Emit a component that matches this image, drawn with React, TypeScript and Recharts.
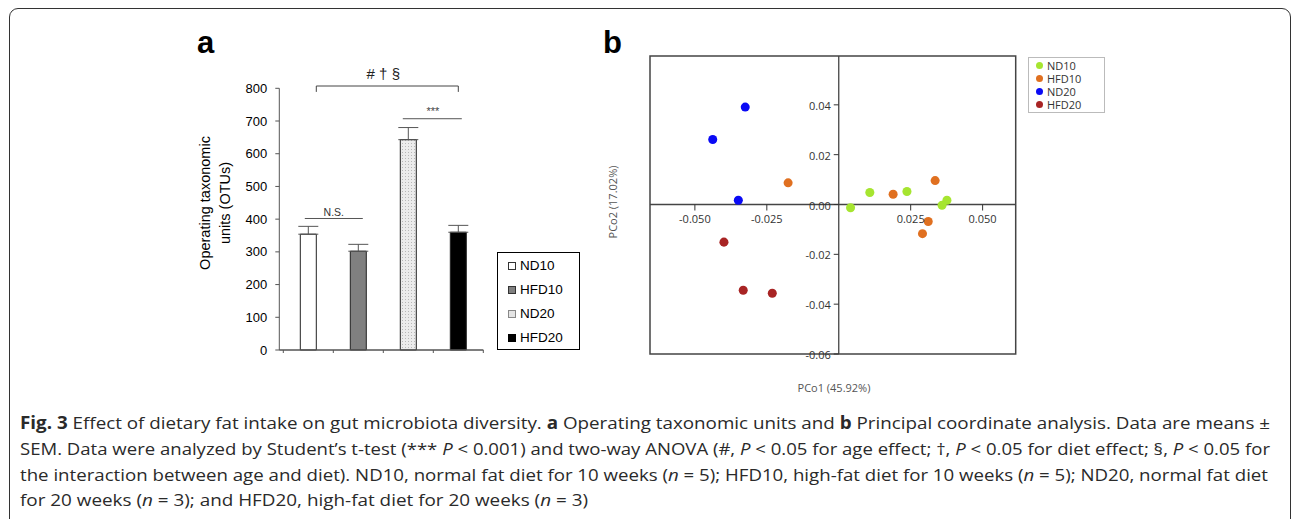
import React from 'react';
import {
  BarChart,
  Bar,
  Cell,
  ErrorBar,
  XAxis,
  YAxis,
  ReferenceLine,
  ReferenceDot,
  ReferenceArea,
  Label,
  ScatterChart,
  Scatter,
  ZAxis,
} from 'recharts';

// panel a: OTUs
const groups = ['ND10', 'HFD10', 'ND20', 'HFD20'];
const otuMeans = [354, 302, 643, 360];
const otuSem = [24, 21, 37, 21];
const otuTicks = [0, 100, 200, 300, 400, 500, 600, 700, 800];
const slotTicks = [0, 1, 2, 3, 4];
const barFills = ['#ffffff', '#808080', 'url(#dots)', '#000000'];

// panel b: PCoA
const nd10 = [
  { x: 0.0041, y: -0.0013 },
  { x: 0.0108, y: 0.0048 },
  { x: 0.0237, y: 0.0052 },
  { x: 0.0359, y: -0.0003 },
  { x: 0.0376, y: 0.0017 },
];
const hfd10 = [
  { x: -0.0176, y: 0.0087 },
  { x: 0.0189, y: 0.0041 },
  { x: 0.0335, y: 0.0096 },
  { x: 0.0311, y: -0.0068 },
  { x: 0.0291, y: -0.0117 },
];
const nd20 = [
  { x: -0.0325, y: 0.0391 },
  { x: -0.0438, y: 0.0261 },
  { x: -0.0349, y: 0.0017 },
];
const hfd20 = [
  { x: -0.0399, y: -0.0151 },
  { x: -0.0332, y: -0.0344 },
  { x: -0.0231, y: -0.0356 },
];
const pcoXTicks = [-0.05, -0.025, 0.025, 0.05];
const pcoYTicks = [0.04, 0.02, 0, -0.02, -0.04, -0.06];
const pcoXDomain = [-0.0656, 0.0615];
const pcoYDomain = [-0.06, 0.0596];

const pcoSeries = [
  { name: 'ND10', data: nd10, color: '#a6e530' },
  { name: 'HFD10', data: hfd10, color: '#e07020' },
  { name: 'ND20', data: nd20, color: '#0a0af5' },
  { name: 'HFD20', data: hfd20, color: '#a82424' },
];

// each group sits in the middle of its slot on a 0..4 axis
const otuData = groups.map((g, i) => ({ group: g, slot: i + 0.5, value: otuMeans[i], err: [0, otuSem[i]] }));

const ARIAL = '"Liberation Sans", Arial, sans-serif';
const SEGOE = '"Open Sans", "Noto Sans", sans-serif';

const PLOT_W = 365.7;
const PLOT_H = 298;
const xShift = (PLOT_W * (0 - pcoXDomain[0])) / (pcoXDomain[1] - pcoXDomain[0]);
const yShift = (PLOT_H * (0 - pcoYDomain[0])) / (pcoYDomain[1] - pcoYDomain[0]);

const SlotTick = (props: any) => {
  const { x, y } = props;
  return <line x1={x} x2={x} y1={y} y2={y + 3} stroke="#555" />;
};

const PcoXTick = (props: any) => {
  const { x, y, payload } = props;
  const y0 = y - yShift;
  return (
    <g>
      <line x1={x} x2={x} y1={y0} y2={y0 + 6} stroke="#333" />
      <text x={x} y={y0 + 18} textAnchor="middle" fontSize={11} fontFamily={SEGOE} fill="#333">
        {payload.value.toFixed(3)}
      </text>
    </g>
  );
};

const PcoYTick = (props: any) => {
  const { x, y, payload } = props;
  const x0 = x + xShift;
  return (
    <g>
      <line x1={x0 - 5} x2={x0} y1={y} y2={y} stroke="#333" />
      <text x={x0 - 8} y={y + 5} textAnchor="end" fontSize={11} fontFamily={SEGOE} fill="#333">
        {payload.value.toFixed(2)}
      </text>
    </g>
  );
};

const OtuChart = () => (
  <BarChart
    width={330}
    height={350}
    data={otuData}
    margin={{ top: 68.3, right: 26.7, bottom: 10, left: 59.3 }}
  >
    <defs>
      <pattern id="dots" width="3" height="3" patternUnits="userSpaceOnUse">
        <rect width="3" height="3" fill="#ececec" />
        <rect width="1" height="1" fill="#b8b8b8" />
      </pattern>
    </defs>
    <XAxis
      type="number"
      dataKey="slot"
      domain={[0, 4]}
      ticks={slotTicks}
      interval={0}
      allowDataOverflow
      height={10}
      padding={{ left: 4, right: 0 }}
      axisLine={{ stroke: '#555' }}
      tickLine={false}
      tickSize={0}
      tickMargin={0}
      tick={<SlotTick />}
    />
    <YAxis
      width={40}
      domain={[0, 800]}
      ticks={otuTicks}
      interval={0}
      stroke="#555"
      tickSize={4}
      tickMargin={8}
      tick={{ fontSize: 13, fontFamily: ARIAL, fill: '#000' }}
    />
    <ReferenceLine y={0} stroke="#555" />
    <Bar dataKey="value" barSize={16} stroke="#222" strokeWidth={1} isAnimationActive={false}>
      {otuData.map((d, i) => (
        <Cell key={d.group} fill={barFills[i]} />
      ))}
      <ErrorBar dataKey="err" width={10} stroke="#555" strokeWidth={1} direction="y" />
    </Bar>
    {/* #†§ bracket */}
    <ReferenceLine segment={[{ x: 0.66, y: 807 }, { x: 3.5, y: 807 }]} stroke="#444" ifOverflow="visible" />
    <ReferenceLine segment={[{ x: 0.66, y: 807 }, { x: 0.66, y: 789 }]} stroke="#444" ifOverflow="visible" />
    <ReferenceLine segment={[{ x: 3.5, y: 807 }, { x: 3.5, y: 789 }]} stroke="#444" ifOverflow="visible" />
    <ReferenceDot
      x={2.0}
      y={846}
      r={1}
      fill="none"
      stroke="none"
      ifOverflow="visible"
      label={<Label value="# † §" position="center" fontSize={15} fontFamily={ARIAL} fill="#222" />}
    />
    {/* *** */}
    <ReferenceLine segment={[{ x: 2.39, y: 707 }, { x: 3.57, y: 707 }]} stroke="#555" ifOverflow="visible" />
    <ReferenceDot
      x={2.99}
      y={729}
      r={1}
      fill="none"
      stroke="none"
      ifOverflow="visible"
      label={<Label value="***" position="center" fontSize={11} fontFamily={ARIAL} fill="#444" />}
    />
    {/* N.S. */}
    <ReferenceLine segment={[{ x: 0.43, y: 402 }, { x: 1.59, y: 402 }]} stroke="#555" ifOverflow="visible" />
    <ReferenceDot
      x={1.01}
      y={420}
      r={1}
      fill="none"
      stroke="none"
      ifOverflow="visible"
      label={<Label value="N.S." position="center" fontSize={10.5} fontFamily={ARIAL} fill="#333" />}
    />
  </BarChart>
);

const PcoChart = () => (
  <ScatterChart width={520} height={380} margin={{ top: 36, right: 104.3, bottom: 36, left: 40 }}>
    <XAxis
      type="number"
      dataKey="x"
      domain={pcoXDomain}
      ticks={pcoXTicks}
      interval={0}
      height={10}
      axisLine={false}
      tickLine={false}
      tickSize={0}
      tickMargin={0}
      allowDataOverflow
      tick={<PcoXTick />}
    />
    <YAxis
      type="number"
      dataKey="y"
      domain={pcoYDomain}
      ticks={pcoYTicks}
      interval={0}
      width={10}
      axisLine={false}
      tickLine={false}
      tickSize={0}
      tickMargin={0}
      allowDataOverflow
      tick={<PcoYTick />}
    />
    <ZAxis range={[42, 42]} />
    <ReferenceArea
      x1={pcoXDomain[0]}
      x2={pcoXDomain[1]}
      y1={pcoYDomain[0]}
      y2={pcoYDomain[1]}
      fill="none"
      fillOpacity={0}
      stroke="#444"
      strokeWidth={1.5}
    />
    <ReferenceLine x={0} stroke="#444" strokeWidth={1.3} />
    <ReferenceLine y={0} stroke="#444" strokeWidth={1.3} />
    {pcoSeries.map((s) => (
      <Scatter key={s.name} name={s.name} data={s.data} fill={s.color} isAnimationActive={false} />
    ))}
  </ScatterChart>
);

const legendSquare = (i: number) => {
  const base: React.CSSProperties = {
    position: 'absolute',
    left: 10,
    width: 6,
    height: 6,
    border: '1px solid #333',
  };
  if (i === 0) return { ...base, background: '#fff' };
  if (i === 1) return { ...base, background: '#808080' };
  if (i === 2) return { ...base, background: '#e4e4e4', border: '1px solid #888' };
  return { ...base, background: '#000', border: '1px solid #000' };
};

const captionLines = [
  {
    len: 1250,
    parts: [
      { t: 'Fig. 3', b: true },
      { t: ' Effect of dietary fat intake on gut microbiota diversity. ' },
      { t: 'a', b: true },
      { t: ' Operating taxonomic units and ' },
      { t: 'b', b: true },
      { t: ' Principal coordinate analysis. Data are means ±' },
    ],
  },
  {
    len: 1250,
    parts: [
      { t: 'SEM. Data were analyzed by Student\u2019s t-test (*** ' },
      { t: 'P', i: true },
      { t: ' < 0.001) and two-way ANOVA (#, ' },
      { t: 'P', i: true },
      { t: ' < 0.05 for age effect; †, ' },
      { t: 'P', i: true },
      { t: ' < 0.05 for diet effect; §, ' },
      { t: 'P', i: true },
      { t: ' < 0.05 for' },
    ],
  },
  {
    len: 1248,
    parts: [
      { t: 'the interaction between age and diet). ND10, normal fat diet for 10 weeks (' },
      { t: 'n', i: true },
      { t: ' = 5); HFD10, high-fat diet for 10 weeks (' },
      { t: 'n', i: true },
      { t: ' = 5); ND20, normal fat diet' },
    ],
  },
  {
    len: 568,
    parts: [
      { t: 'for 20 weeks (' },
      { t: 'n', i: true },
      { t: ' = 3); and HFD20, high-fat diet for 20 weeks (' },
      { t: 'n', i: true },
      { t: ' = 3)' },
    ],
  },
];

const App: React.FC = () => {
  return (
    <div
      style={{
        position: 'absolute',
        left: 0,
        top: 0,
        width: 1292,
        height: 519,
        overflow: 'hidden',
        background: '#fff',
      }}
    >
      {/* frame */}
      <div
        style={{
          position: 'absolute',
          left: 9,
          top: 8,
          width: 1282,
          height: 520,
          border: '1.5px solid #333',
          borderRadius: 9,
          boxSizing: 'border-box',
        }}
      />
      <svg width={1292} height={519} style={{ position: 'absolute', left: 0, top: 0 }}>
        <text x={197} y={53} fontSize={31} fontWeight="bold" fontFamily={ARIAL} fill="#000">a</text>
        <text x={603} y={53} fontSize={31} fontWeight="bold" fontFamily={ARIAL} fill="#000">b</text>
        <g fontSize={14.5} fontFamily={ARIAL} fill="#000" textAnchor="middle">
          <text transform="translate(210,203) rotate(-90)">Operating taxonomic</text>
          <text transform="translate(230,203) rotate(-90)">units (OTUs)</text>
        </g>
        <text transform="translate(617,202) rotate(-90)" textAnchor="middle" fontSize={11} fontFamily={SEGOE} fill="#555">
          PCo2 (17.02%)
        </text>
        <text x={834} y={392} textAnchor="middle" fontSize={11} fontFamily={SEGOE} fill="#555">
          PCo1 (45.92%)
        </text>
        <g fontSize={17} fontFamily={SEGOE} fill="#2a2a2a">
          {captionLines.map((line, li) => (
            <text key={li} x={20} y={429 + li * 25.8} textLength={line.len} lengthAdjust="spacingAndGlyphs">
              {line.parts.map((p: any, pi) => (
                <tspan key={pi} fontWeight={p.b ? 'bold' : 'normal'} fontStyle={p.i ? 'italic' : 'normal'}>
                  {p.t}
                </tspan>
              ))}
            </text>
          ))}
        </g>
      </svg>

      <div style={{ position: 'absolute', left: 180, top: 20 }}>
        <OtuChart />
      </div>

      {/* legend a */}
      <div
        style={{
          position: 'absolute',
          left: 497,
          top: 252,
          width: 83,
          height: 98,
          border: '1px solid #000',
          boxSizing: 'border-box',
          fontFamily: ARIAL,
          fontSize: 13.5,
        }}
      >
        {groups.map((g, i) => (
          <div key={g} style={{ position: 'absolute', left: 0, top: 5 + i * 24, height: 16, width: 80 }}>
            <div style={{ ...legendSquare(i), top: 4 }} />
            <span style={{ position: 'absolute', left: 22, top: 0, lineHeight: '16px' }}>{g}</span>
          </div>
        ))}
      </div>

      <div style={{ position: 'absolute', left: 600, top: 20 }}>
        <PcoChart />
      </div>

      {/* legend b */}
      <div
        style={{
          position: 'absolute',
          left: 1028,
          top: 57,
          width: 77,
          height: 56,
          border: '1px solid #bbb',
          boxSizing: 'border-box',
          fontFamily: SEGOE,
          fontSize: 11,
          color: '#333',
        }}
      >
        {pcoSeries.map((s, i) => (
          <div key={s.name} style={{ position: 'absolute', left: 0, top: 1 + i * 13, height: 13, width: 75 }}>
            <div
              style={{
                position: 'absolute',
                left: 7,
                top: 3,
                width: 7,
                height: 7,
                borderRadius: '50%',
                background: s.color,
              }}
            />
            <span style={{ position: 'absolute', left: 18, top: 0, lineHeight: '13px' }}>{s.name}</span>
          </div>
        ))}
      </div>
    </div>
  );
};

export default App;
